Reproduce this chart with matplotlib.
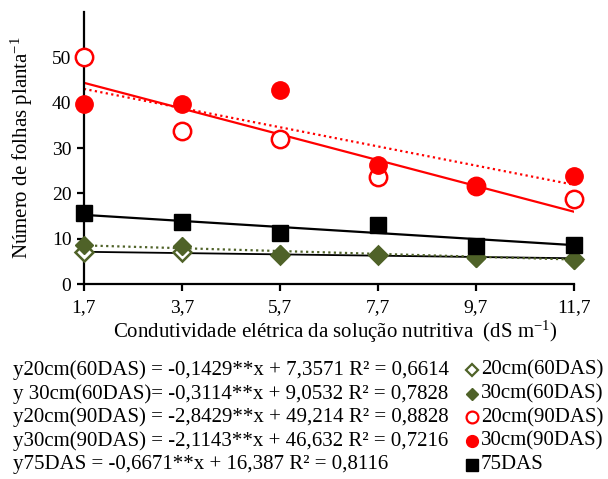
import numpy as np
import matplotlib
matplotlib.use('Agg')
import matplotlib.pyplot as plt
from matplotlib.lines import Line2D

plt.rcParams['font.family'] = ['Liberation Serif', 'DejaVu Serif']
plt.rcParams['mathtext.fontset'] = 'custom'
plt.rcParams['mathtext.rm'] = 'Liberation Serif'
plt.rcParams['mathtext.it'] = 'Liberation Serif:italic'

# condutividade elétrica (dS m-1)
ce = [1.7, 3.7, 5.7, 7.7, 9.7, 11.7]
ce_labels = ['1,7', '3,7', '5,7', '7,7', '9,7', '11,7']

# número de folhas por planta
f20_60 = [7.1, 7.1, 6.5, 6.3, 6.0, 5.5]
f30_60 = [8.6, 8.4, 6.6, 6.4, 5.8, 5.3]
f20_90 = [50.0, 33.8, 31.9, 23.7, 21.7, 18.8]
f30_90 = [39.6, 39.6, 42.9, 26.3, 21.7, 23.9]
f75 = [15.7, 13.7, 11.3, 13.1, 8.4, 8.6]

# coeficientes das regressões (a*x + b)
reg20_60 = (-0.1429, 7.3571)
reg30_60 = (-0.3114, 9.0532)
reg20_90 = (-2.8429, 49.214)
reg30_90 = (-2.1143, 46.632)
reg75 = (-0.6671, 16.387)

equacoes = [
    'y20cm(60DAS) = -0,1429**x + 7,3571 R² = 0,6614',
    'y 30cm(60DAS)= -0,3114**x + 9,0532 R² = 0,7828',
    'y20cm(90DAS) = -2,8429**x + 49,214 R² = 0,8828',
    'y30cm(90DAS) = -2,1143**x + 46,632 R² = 0,7216',
    'y75DAS = -0,6671**x + 16,387 R² = 0,8116',
]
nomes = ['20cm(60DAS)', '30cm(60DAS)', '20cm(90DAS)', '30cm(90DAS)', '75DAS']

VERDE = '#4F6228'
VERMELHO = '#FF0000'

fig = plt.figure(figsize=(6.08, 4.79), dpi=100)
ax = fig.add_axes([0.138, 0.407, 0.806, 0.568])

x = np.array(ce)
xr = np.array([ce[0], ce[-1]])

# retas de regressão
ax.plot(xr, reg20_90[0] * xr + reg20_90[1], color=VERMELHO, lw=1.6, zorder=2)
ax.plot(xr, reg30_90[0] * xr + reg30_90[1], color=VERMELHO, lw=1.6, ls=(0, (1, 1.5)), zorder=2)
ax.plot(xr, reg75[0] * xr + reg75[1], color='black', lw=1.6, zorder=2)
ax.plot(xr, reg20_60[0] * xr + reg20_60[1], color='black', lw=1.3, zorder=2)
ax.plot(xr, reg30_60[0] * xr + reg30_60[1], color=VERDE, lw=1.6, ls=(0, (1, 1.5)), zorder=2)

# pontos observados
estilos = [
    dict(marker='D', mfc='white', mec=VERDE, mew=1.8),
    dict(marker='D', mfc=VERDE, mec=VERDE),
    dict(marker='o', mfc='white', mec=VERMELHO, mew=1.8),
    dict(marker='o', mfc=VERMELHO, mec=VERMELHO),
    dict(marker='s', mfc='black', mec='black'),
]
tam = [9, 9, 12.5, 12.5, 11]
tam_leg = [6.5, 6.5, 8.5, 8.5, 8.5]
series = [f20_60, f30_60, f20_90, f30_90, f75]
for ys, st, ms in zip(series, estilos, tam):
    ax.plot(x, ys, ls='none', ms=ms, clip_on=False, zorder=3, **st)

ax.set_xlim(1.7, 11.7)
ax.set_ylim(0, 60)
ax.set_xticks(ce)
ax.set_xticklabels(ce_labels)
ax.set_yticks(range(0, 51, 10))
for s in ['top', 'right']:
    ax.spines[s].set_visible(False)
for s in ['left', 'bottom']:
    ax.spines[s].set_linewidth(1.6)
ax.tick_params(direction='out', length=5, width=1.6, labelsize=14)
ax.tick_params(axis='x', pad=6)
ax.tick_params(axis='y', pad=4)
ax.set_xlabel('Condutividade elétrica da solução nutritiva  (dS m$^{-1}$)', fontsize=15)
ax.xaxis.set_label_coords(0.512, -0.128)
ax.set_ylabel('Número de folhas planta$^{-1}$', fontsize=15, labelpad=12)

# equações e legenda
y0 = 1 - 370 / 479
dy = 23.7 / 479
for i, (eq, nome, st, ms) in enumerate(zip(equacoes, nomes, estilos, tam_leg)):
    yy = y0 - i * dy
    fig.text(13 / 608, yy, eq, fontsize=15, va='center', ha='left')
    fig.add_artist(Line2D([472 / 608], [yy], transform=fig.transFigure, ls='none', ms=ms,
                          **{**st, 'mew': min(st.get('mew', 1.0), 1.6)}))
    fig.text(481 / 608, yy, nome, fontsize=15, va='center', ha='left')

fig.savefig('out.png', dpi=100)
